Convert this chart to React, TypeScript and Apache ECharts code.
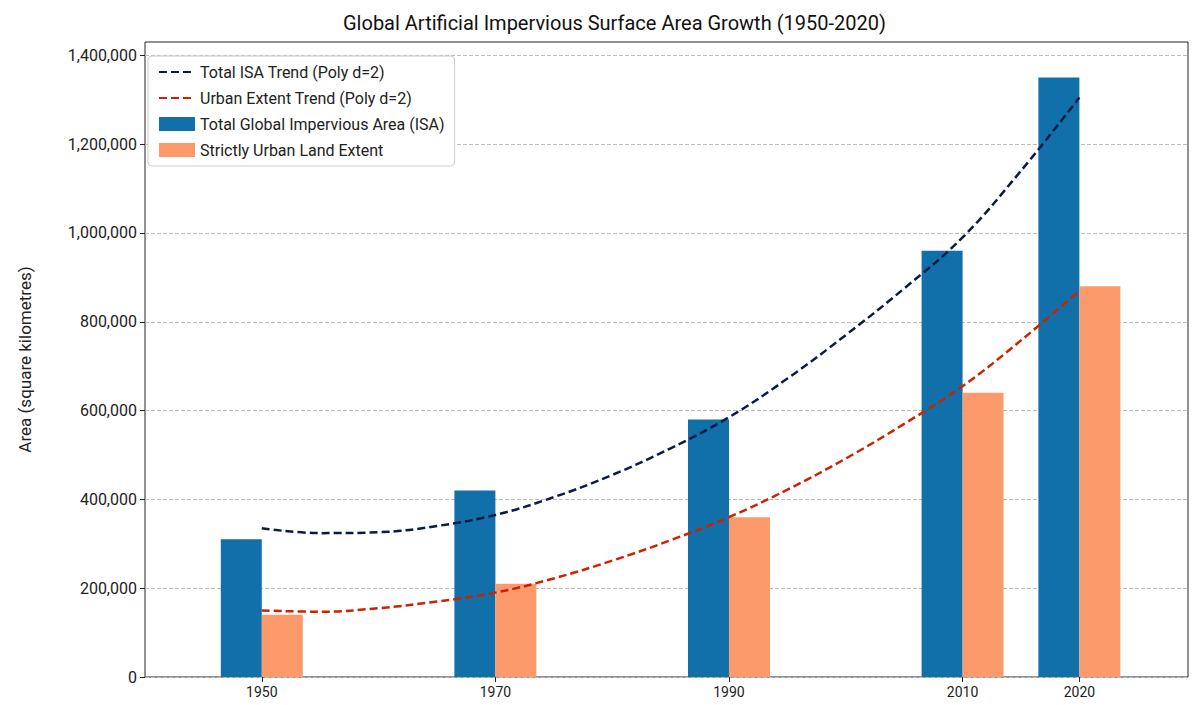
import React, { useEffect, useRef } from "react";
import * as echarts from "echarts";

const years = [1950, 1970, 1990, 2010, 2020];
const isaValues = [310000, 420000, 580000, 960000, 1350000];
const urbanValues = [140000, 210000, 360000, 640000, 880000];
const trendYears = [1950, 1955, 1960, 1965, 1970, 1975, 1980, 1985, 1990, 1995, 2000, 2005, 2010, 2015, 2020];
const isaTrend = [335000, 324000, 326000, 340000, 365000, 405000, 455000, 515000, 585000, 672000, 770000, 875000, 990000, 1140000, 1305000];
const urbanTrend = [150000, 147000, 155000, 170000, 190000, 222000, 262000, 308000, 360000, 422000, 492000, 570000, 655000, 758000, 870000];
const yTicks = [0, 200000, 400000, 600000, 800000, 1000000, 1200000, 1400000];

export default function App() {
  const ref = useRef<HTMLDivElement>(null);
  useEffect(() => {
    const chart = echarts.init(ref.current!, null, { renderer: "svg" });
    const font = "Roboto";
    chart.setOption({
      animation: false,
      textStyle: { fontFamily: font },
      title: {
        text: "Global Artificial Impervious Surface Area Growth (1950-2020)",
        left: 330, top: 0,
        textStyle: { fontSize: 20, fontWeight: "normal", color: "#111", fontFamily: font },
      },
      legend: {
        orient: "vertical", left: 140, top: 48, padding: [8, 10, 8, 10],
        borderColor: "#ccc", borderWidth: 1, borderRadius: 4, backgroundColor: "#fff",
        itemWidth: 36, itemHeight: 14, itemGap: 10,
        textStyle: { fontSize: 16, color: "#222" },
        data: [
          { name: "Total ISA Trend (Poly d=2)", itemStyle: { opacity: 0 } },
          { name: "Urban Extent Trend (Poly d=2)", itemStyle: { opacity: 0 } },
          { name: "Total Global Impervious Area (ISA)", icon: "rect" },
          { name: "Strictly Urban Land Extent", icon: "rect" },
        ],
      },
      grid: { left: 130, right: 12, top: 34, bottom: 28, show: true, borderColor: "#222", borderWidth: 1 },
      xAxis: {
        type: "value", min: 1940, max: 2029.3,
        splitLine: { show: false },
        axisLine: { show: false },
        axisTick: { show: true, customValues: years, lineStyle: { color: "#222" } },
        axisLabel: { customValues: years, fontSize: 14, color: "#222", formatter: (v: number) => String(v) },
      },
      yAxis: {
        type: "value", min: 0, max: 1430000,
        name: "Area (square kilometres)", nameLocation: "middle", nameGap: 112,
        nameTextStyle: { fontSize: 17, color: "#222" },
        axisLine: { show: false },
        axisTick: { show: true, customValues: yTicks, lineStyle: { color: "#222" } },
        axisLabel: {
          customValues: yTicks, fontSize: 16, color: "#222",
          formatter: (v: number) => v.toLocaleString("en-US"),
        },
        splitLine: { show: true, lineStyle: { type: "dashed", color: "#bbb" } },
      },
      series: [
        {
          name: "Total Global Impervious Area (ISA)", type: "bar", barWidth: 41, barGap: "0%",
          itemStyle: { color: "#1170aa" },
          data: years.map((y, i) => [y, isaValues[i]]),
        },
        {
          name: "Strictly Urban Land Extent", type: "bar", barWidth: 41, barGap: "0%",
          itemStyle: { color: "#fd9a6c" },
          data: years.map((y, i) => [y, urbanValues[i]]),
        },
        {
          name: "Total ISA Trend (Poly d=2)", type: "line", smooth: 0.4, symbol: "none",
          lineStyle: { color: "#0d1a48", width: 2.5, type: [8, 4] }, itemStyle: { color: "#0d1a48" },
          data: trendYears.map((y, i) => [y, isaTrend[i]]), z: 5,
        },
        {
          name: "Urban Extent Trend (Poly d=2)", type: "line", smooth: 0.4, symbol: "none",
          lineStyle: { color: "#cc2200", width: 2.5, type: [8, 4] }, itemStyle: { color: "#cc2200" },
          data: trendYears.map((y, i) => [y, urbanTrend[i]]), z: 5,
        },
      ],
    });
    return () => chart.dispose();
  }, []);
  return <div ref={ref} style={{ width: 1192, height: 697 }} />;
}
